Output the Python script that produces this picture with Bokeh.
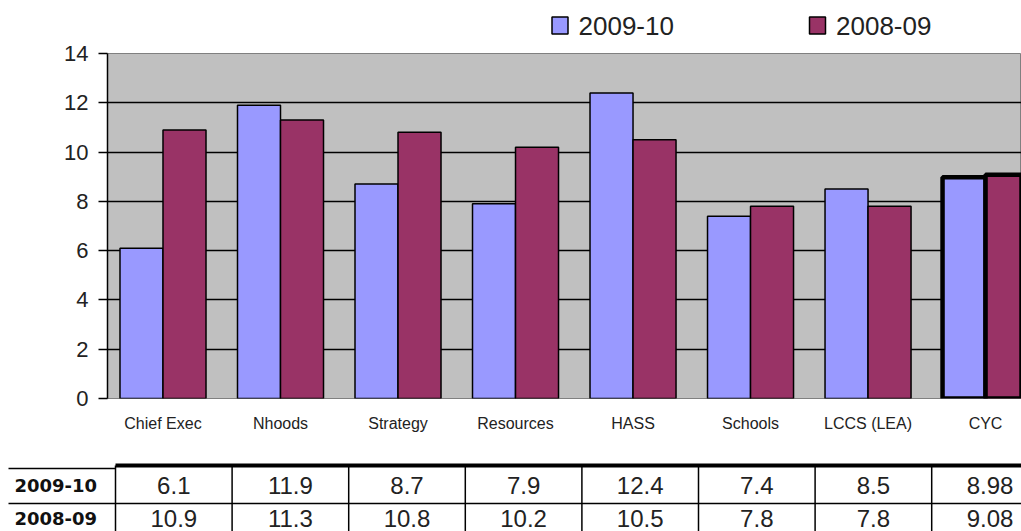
from bokeh.plotting import figure
from bokeh.models import ColumnDataSource, Range1d, FixedTicker
from bokeh.layouts import column
from bokeh.transform import dodge
from bokeh.core.properties import value
from bokeh.embed import file_html
from bokeh.resources import INLINE

categories = ["Chief Exec", "Nhoods", "Strategy", "Resources", "HASS", "Schools", "LCCS (LEA)", "CYC"]
series_names = ["2009-10", "2008-09"]
values_2009_10 = [6.1, 11.9, 8.7, 7.9, 12.4, 7.4, 8.5, 8.98]
values_2008_09 = [10.9, 11.3, 10.8, 10.2, 10.5, 7.8, 7.8, 9.08]
y_ticks = [0, 2, 4, 6, 8, 10, 12, 14]

colors = ["#9999FF", "#993366"]
FONT = "Liberation Sans"

# ---------------- legend strip ----------------
LEG_H = 40
leg = figure(width=1021, height=LEG_H, x_range=Range1d(0, 1021), y_range=Range1d(LEG_H, 0),
             output_backend="svg", toolbar_location=None, min_border=0,
             x_axis_location=None, y_axis_location=None)
leg.frame_align = False
leg.outline_line_color = None
leg.grid.visible = False
leg_x = [559.5, 817]
leg_src = ColumnDataSource(dict(x=leg_x, tx=[x + 18.5 for x in leg_x], y=[25, 25],
                                name=series_names, color=colors))
leg.rect(x="x", y="y", width=16, height=17, fill_color="color", line_color="black",
         line_width=1.5, source=leg_src)
leg.text(x="tx", y="y", text="name", source=leg_src, text_font=value(FONT),
         text_font_size="26px", text_baseline="middle", text_align="left", text_color="#222222")

# ---------------- bar chart ----------------
n = len(categories)
centers = [i + 0.5 for i in range(n)]
src = ColumnDataSource(dict(
    x=centers, cat=categories, a=values_2009_10, b=values_2008_09,
    lw=[4.5 if c == "CYC" else 1.5 for c in categories],
))

CH_H = 455 - LEG_H
p = figure(width=1021, height=CH_H, x_range=Range1d(0.0277, 7.806), y_range=Range1d(0, 14),
           output_backend="svg", toolbar_location=None,
           min_border_left=107, min_border_right=0, min_border_top=53 - LEG_H, min_border_bottom=57)
p.frame_align = False
p.background_fill_color = "#C0C0C0"
p.border_fill_color = "white"
p.outline_line_color = "#808080"
p.outline_line_width = 1

p.xgrid.visible = False
p.ygrid.ticker = FixedTicker(ticks=[t for t in y_ticks if 0 < t < 14])
p.ygrid.grid_line_color = "black"
p.ygrid.grid_line_width = 1.5

bw = 0.366
p.vbar(x=dodge("x", -bw / 2, range=p.x_range), top="a", width=bw, source=src,
       fill_color=colors[0], line_color="black", line_width="lw")
p.vbar(x=dodge("x", bw / 2, range=p.x_range), top="b", width=bw, source=src,
       fill_color=colors[1], line_color="black", line_width="lw")

ya = p.yaxis[0]
ya.ticker = FixedTicker(ticks=y_ticks)
ya.major_tick_out = 9
ya.major_tick_in = 0
ya.minor_tick_line_color = None
ya.axis_line_color = "black"
ya.axis_line_width = 1.5
ya.major_tick_line_color = "black"
ya.major_tick_line_width = 1.5
ya.major_label_text_font = FONT
ya.major_label_text_font_size = "22px"
ya.major_label_text_color = "#222222"
ya.major_label_standoff = 10

xa = p.xaxis[0]
xa.ticker = FixedTicker(ticks=centers)
xa.major_label_overrides = {c: lab for c, lab in zip(centers, categories)}
xa.major_tick_line_color = None
xa.minor_tick_line_color = None
xa.axis_line_color = None
xa.major_label_text_font = FONT
xa.major_label_text_font_size = "16px"
xa.major_label_text_color = "#222222"
xa.major_label_standoff = 10

# ---------------- data table ----------------
tbl = figure(width=1021, height=76, x_range=Range1d(0, 1021), y_range=Range1d(531, 455),
             output_backend="svg", toolbar_location=None, min_border=0,
             x_axis_location=None, y_axis_location=None)
tbl.frame_align = False
tbl.outline_line_color = None
tbl.grid.visible = False

col0 = 115
colw = 116.6
row_y = [485, 518]
bounds = [col0 + k * colw for k in range(n)]
tbl.segment(x0=[col0], y0=[465], x1=[1021], y1=[465], line_color="black", line_width=4)
tbl.segment(x0=[8], y0=[468], x1=[col0], y1=[468], line_color="black", line_width=1.5)
tbl.segment(x0=[8], y0=[503], x1=[1021], y1=[503], line_color="black", line_width=1.5)
tbl.segment(x0=bounds, y0=[465] * n, x1=bounds, y1=[531] * n, line_color="black", line_width=1.5)

tbl.text(x=[14, 14], y=row_y, text=series_names, text_font=value("DejaVu Sans"),
         text_font_style="bold", text_font_size="18px", text_baseline="middle",
         text_align="left", text_color="#111111")
cell_x = [b + colw / 2 for b in bounds]
for r, vals in enumerate([values_2009_10, values_2008_09]):
    tbl.text(x=cell_x, y=[row_y[r]] * n, text=[str(v) for v in vals], text_font=value(FONT),
             text_font_size="24px", text_baseline="middle", text_align="center",
             text_color="#222222")

layout = column(leg, p, tbl)
open("out.html", "w").write(file_html(layout, INLINE))
